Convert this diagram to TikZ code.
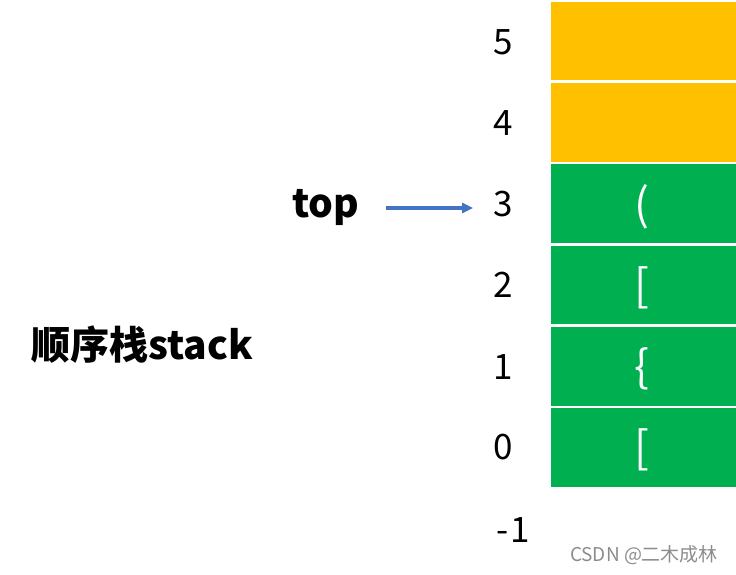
\documentclass[tikz,border=0pt]{standalone}
\usepackage{fontspec}
\setmainfont{Noto Sans CJK SC}
\usetikzlibrary{arrows.meta}
\definecolor{cellorange}{HTML}{FFC000}
\definecolor{cellgreen}{HTML}{00B050}
\definecolor{arrowblue}{HTML}{4472C4}
\tikzset{
  x=1pt, y=-1pt,
  cell/.style={minimum width=188pt, minimum height=80pt, inner sep=0pt, draw=white, line width=1.2pt, anchor=north west},
  idx/.style={font=\fontsize{35}{35}\selectfont, inner sep=0pt, text=black},
  sym/.style={font=\fontsize{44}{44}\selectfont, text=white, inner sep=0pt},
  boldlabel/.style={font=\fontsize{39}{39}\selectfont\bfseries, inner sep=0pt},
}
\begin{document}
\begin{tikzpicture}
\useasboundingbox (0,0) rectangle (736,575);
% cells
\node[cell, fill=cellorange] (c5) at (549.5,0.5) {};
\node[cell, fill=cellorange] (c4) at (549.5,81.8) {};
\node[cell, fill=cellgreen] (c3) at (549.5,163.1) {};
\node[cell, fill=cellgreen] (c2) at (549.5,244.4) {};
\node[cell, fill=cellgreen] (c1) at (549.5,325.7) {};
\node[cell, fill=cellgreen] (c0) at (549.5,407) {};
% symbols
\node[sym] (s3) at (642,207) {(};
\node[sym] (s2) at (642,288) {[};
\node[sym] (s1) at (642,369) {\{};
\node[sym] (s0) at (642,450) {[};
% indices
\node[idx] (n5) at (503,42) {5};
\node[idx] (n4) at (503,123) {4};
\node[idx] (n3) at (503,204) {3};
\node[idx] (n2) at (503,285) {2};
\node[idx] (n1) at (503,367) {1};
\node[idx] (n0) at (503,447) {0};
\node[idx] (nm1) at (513,530) {-\kern2pt1};
% labels
\node[boldlabel] (top) at (326,207) {top};
\node[boldlabel] (title) at (142,345) {顺序栈stack};
% arrow
\draw[arrowblue, line width=3.2pt, -{Triangle[length=11pt,width=10pt]}, shorten <=26pt, shorten >=20pt]
  (top.east |- 0,208) -- (n3.west |- 0,208);
% watermark
\node[font=\fontsize{19}{19}\selectfont, text=black!45, inner sep=0pt] (wm) at (644,555) {CSDN @二木成林};
\end{tikzpicture}
\end{document}
